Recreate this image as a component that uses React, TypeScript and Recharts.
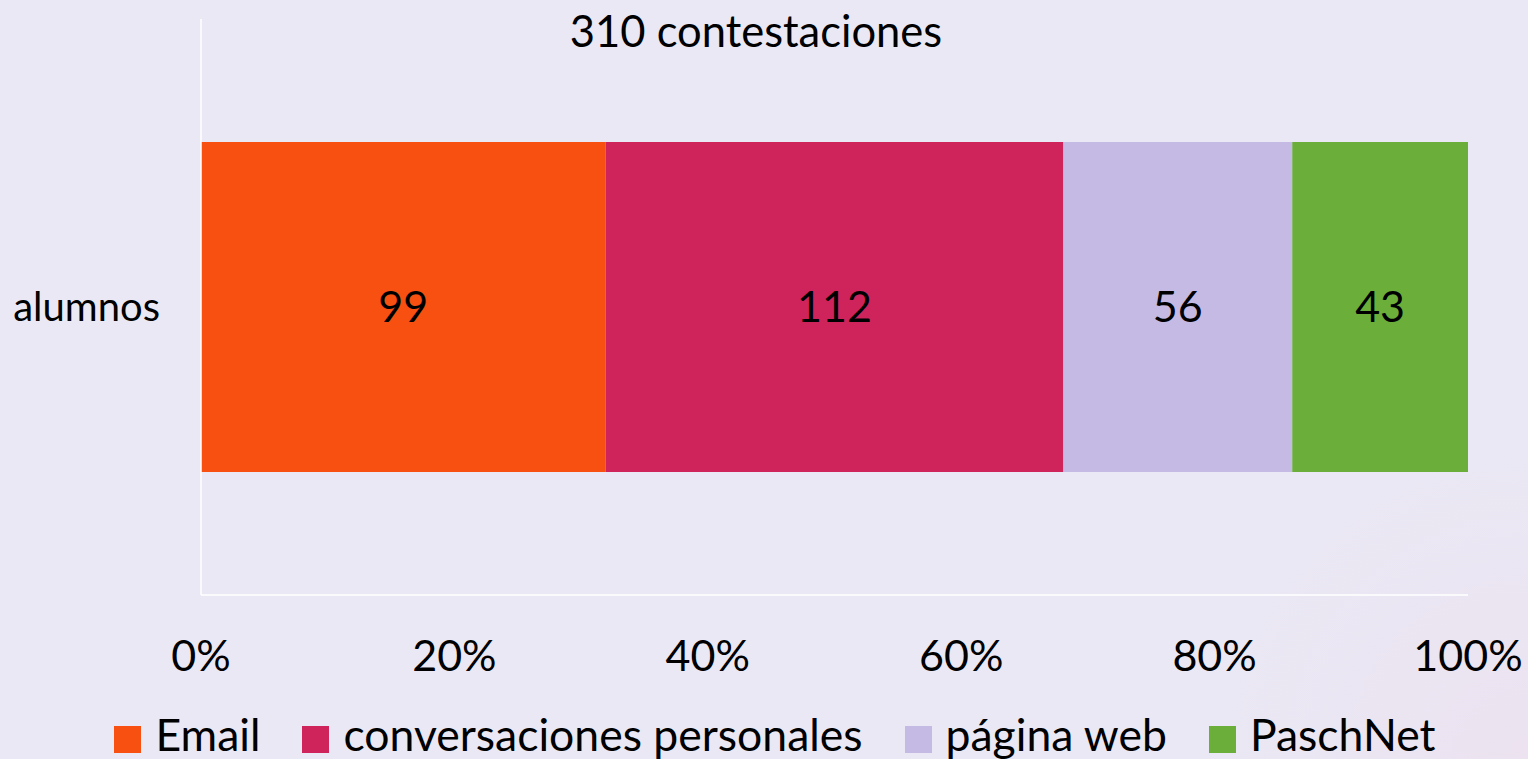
import React from 'react';
import { BarChart, Bar, XAxis, YAxis, Legend, LabelList } from 'recharts';

const categories = ['alumnos'];
const seriesNames = ['Email', 'conversaciones personales', 'página web', 'PaschNet'];
const seriesKeys = ['email', 'conversaciones', 'pagina', 'paschnet'];
const emailValues = [99];
const conversacionesValues = [112];
const paginaValues = [56];
const paschnetValues = [43];
const tickValues = [0, 0.2, 0.4, 0.6, 0.8, 1];
const title = '310 contestaciones';

const COLORS = ['#F75010', '#CF235C', '#C4BAE4', '#6BAF3A'];
const FONT = 'Lato, "Open Sans", sans-serif';

const data = categories.map((name, i) => ({
  name,
  email: emailValues[i],
  conversaciones: conversacionesValues[i],
  pagina: paginaValues[i],
  paschnet: paschnetValues[i],
}));

export default function App() {
  return (
    <div
      style={{
        position: 'fixed',
        left: 0,
        top: 0,
        width: 1528,
        height: 759,
        background:
          'radial-gradient(circle at 100% 100%, #ECE2F0 0%, rgba(234,232,244,0) 18%), #EAE8F4',
        fontFamily: FONT,
        overflow: 'hidden',
      }}
    >
      {/* titulo */}
      <div
        style={{
          position: 'absolute',
          top: 4,
          left: 0,
          width: 1512,
          textAlign: 'center',
          fontSize: 43.5,
          color: '#000',
        }}
      >
        {title}
      </div>

      <BarChart
        width={1528}
        height={759}
        data={data}
        layout="vertical"
        stackOffset="expand"
        margin={{ top: 19, right: 60, bottom: 74, left: 0 }}
      >
        <XAxis
          type="number"
          domain={[0, 1]}
          ticks={tickValues}
          tickFormatter={(v: number) => `${Math.round(v * 100)}%`}
          axisLine={{ stroke: '#FFFFFF', strokeWidth: 1.5 }}
          tickLine={false}
          tickMargin={39}
          height={90}
          tick={{ fill: '#000', fontSize: 43, fontFamily: FONT }}
          interval={0}
        />
        <YAxis
          type="category"
          dataKey="name"
          width={201}
          axisLine={{ stroke: '#FFFFFF', strokeWidth: 1.5 }}
          tickLine={false}
          tickMargin={35}
          tick={{ fill: '#000', fontSize: 40, fontFamily: FONT }}
        />
        <Legend
          layout="horizontal"
          align="center"
          verticalAlign="middle"
          iconType="square"
          iconSize={27}
          itemSorter={(item: any) => seriesNames.indexOf(item.value)}
          wrapperStyle={{ top: 707, left: 32, width: 1528, fontSize: 44.5, fontFamily: FONT }}
          formatter={(value: string) => (
            <span style={{ color: '#000', marginLeft: 10, marginRight: 32 }}>{value}</span>
          )}
        />
        {seriesKeys.map((key, i) => (
          <Bar
            key={key}
            dataKey={key}
            name={seriesNames[i]}
            stackId="a"
            fill={COLORS[i]}
            barSize={330}
            isAnimationActive={false}
          >
            <LabelList
              dataKey={key}
              position="center"
              fill="#000"
              style={{ fontSize: 43, fontFamily: FONT }}
            />
          </Bar>
        ))}
      </BarChart>
    </div>
  );
}
